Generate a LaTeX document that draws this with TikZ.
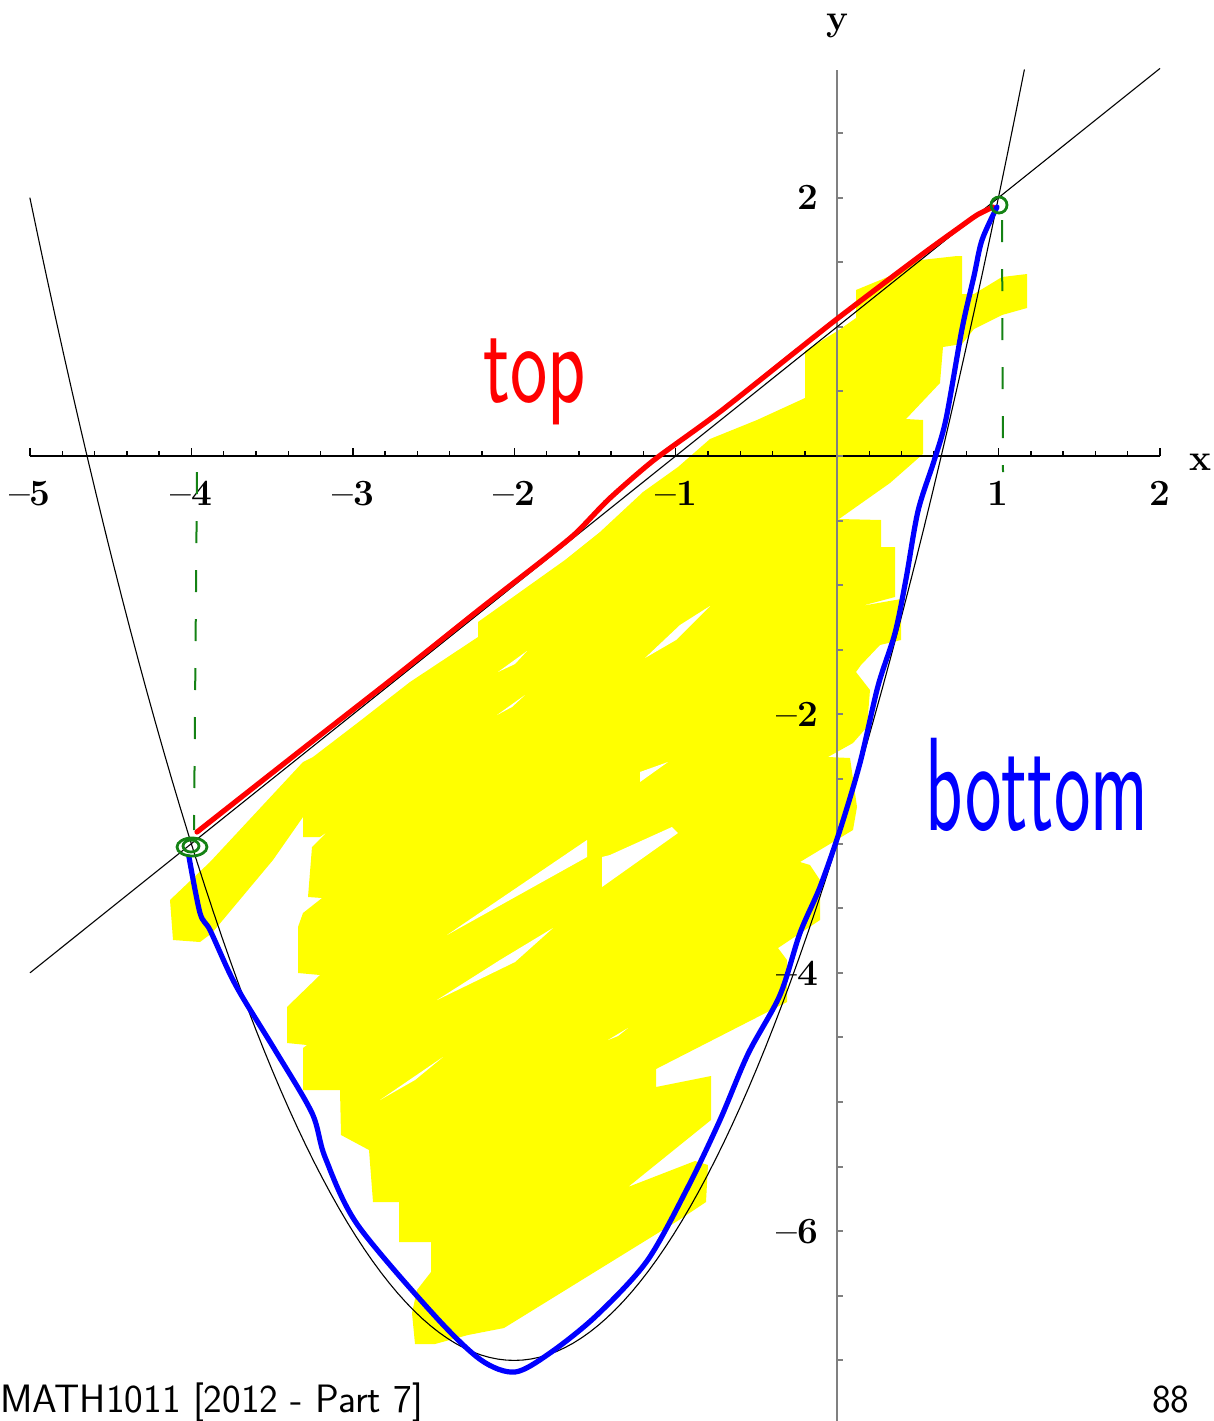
\documentclass[tikz,border=0pt]{standalone}
\usepackage{fontspec}
\definecolor{hly}{RGB}{255,255,0}
\definecolor{penred}{RGB}{255,0,0}
\definecolor{penblue}{RGB}{0,0,255}
\definecolor{pengreen}{RGB}{20,130,20}
\definecolor{axgray}{RGB}{128,128,128}
\begin{document}
\begin{tikzpicture}[x=0.5pt,y=-0.5pt,
  lab/.style={font=\bfseries\fontsize{18.5}{20}\selectfont, inner sep=0pt},
  curveblack/.style={line width=0.55pt, black},
  xax/.style={line width=0.7pt, black},
  yax/.style={line width=1pt, axgray},
  redpen/.style={line width=2.6pt, penred, line cap=round, line join=round},
  bluepen/.style={line width=2.6pt, penblue, line cap=round, line join=round},
  greenpen/.style={line width=1.4pt, pengreen},
  greendash/.style={line width=1pt, pengreen, dash pattern=on 11pt off 13.5pt},
  footer/.style={font=\sffamily\fontsize{19.8}{20}\selectfont, inner sep=0pt},
  gap/.style={fill=white}]
\useasboundingbox (0,0) rectangle (1214,1421);

% highlighter
\fill[hly] (170,900) -- (210,862) -- (303,762) -- (313,757) -- (360,721) -- (410,682) -- (478,637) -- (478,622) -- (565,560) -- (600,532) -- (643,492) -- (678,467) -- (710,439) -- (757,420) -- (805,398) -- (805,351) -- (839,330) -- (856,318) -- (856,290) -- (890,276) -- (912,261) -- (957,256) -- (962,256) -- (962,294) -- (974,294) -- (1002,277) -- (1027,274) -- (1027,308) -- (1002,315) -- (974,329) -- (962,344) -- (943,347) -- (940,383) -- (906,419) -- (923,420) -- (923,454) -- (890,483) -- (839,519) -- (881,520) -- (881,547) -- (895,547) -- (895,597) -- (861,606) -- (901,599) -- (901,640) -- (880,645) -- (861,665) -- (856,672) -- (870,690) -- (867,727) -- (853,743) -- (828,757) -- (850,758) -- (857,807) -- (853,830) -- (800,862) -- (810,865) -- (820,880) -- (820,920) -- (778,948) -- (787,960) -- (787,1002) -- (656,1069) -- (656,1087) -- (711,1076) -- (711,1120) -- (628,1187) -- (695,1161) -- (708,1165) -- (706,1202) -- (679,1220) -- (504,1328) -- (468,1335) -- (435,1344) -- (415,1344) -- (412,1313) -- (417,1290) -- (431,1272) -- (431,1242) -- (399,1242) -- (399,1202) -- (373,1202) -- (369,1150) -- (341,1135) -- (340,1090) -- (303,1090) -- (303,1048) -- (307,1045) -- (287,1043) -- (287,1007) -- (320,975) -- (298,973) -- (298,927) -- (303,913) -- (322,898) -- (308,897) -- (312,847) -- (327,832) -- (320,837) -- (303,837) -- (303,817) -- (273,860) -- (212,933) -- (200,942) -- (173,940) -- cycle;
% gaps in the highlighter strokes
\fill[gap] (710,606) -- (680,625) -- (645,658) -- (676,640) -- cycle;
\fill[gap] (527,651) -- (498,672) -- (515,664) -- cycle;
\fill[gap] (525,695) -- (497,715) -- (512,707) -- cycle;
\fill[gap] (668,762) -- (640,772) -- (640,782) -- cycle;
\fill[gap] (672,827) -- (678,833) -- (602,887) -- (602,857) -- (610,855) -- cycle;
\fill[gap] (587,840) -- (587,857) -- (447,935) -- cycle;
\fill[gap] (553,928) -- (515,962) -- (437,1000) -- (500,960) -- cycle;
\fill[gap] (628,1028) -- (608,1040) -- (618,1036) -- cycle;
\fill[gap] (443,1057) -- (380,1100) -- (415,1080) -- cycle;

% x axis
\draw[xax] (30,456) -- (1160,456);
\foreach \i in {0,...,35} \draw[xax] ({30+\i*32.286},456) -- ++(0,-5);
\foreach \i in {0,...,7} \draw[xax] ({30+\i*161.43},456) -- ++(0,-8);
% y axis
\draw[yax] (837,70) -- (837,1421);
\foreach \k in {-14,...,5} \draw[yax] (837,{456-64.6*\k}) -- ++(6,0);

% tick labels
\node[lab, anchor=base] (xlm5) at (30,505) {\textendash5};
\node[lab, anchor=base] (xlm4) at (191,505) {\textendash4};
\node[lab, anchor=base] (xlm3) at (353,505) {\textendash3};
\node[lab, anchor=base] (xlm2) at (514,505) {\textendash2};
\node[lab, anchor=base] (xlm1) at (676,505) {\textendash1};
\node[lab, anchor=base] (xlp1) at (998,505) {1};
\node[lab, anchor=base] (xlp2) at (1160,505) {2};
\node[lab, anchor=base east] (ylp2) at (819,209) {2};
\node[lab, anchor=base east] (ylm2) at (819,726) {\textendash2};
\node[lab, anchor=base east] (ylm4) at (819,985) {\textendash4};
\node[lab, anchor=base east] (ylm6) at (819,1243) {\textendash6};
\node[lab, anchor=base] (xname) at (1200,470) {x};
\node[lab, anchor=base] (yname) at (837,30) {y};

% curves
\draw[curveblack] plot[domain=-5:1.1623, samples=120] ({837+161.43*\x},{456-129.2*(\x*\x+4*\x-3)});
\draw[curveblack] (30,972.8) -- (1160,68.4);

% top (red)
\draw[redpen] plot[smooth, tension=0.4] coordinates {(197,832) (300,751) (396,676) (480,609) (543,560) (576,533) (609,499) (654,460) (721,411) (833,322) (920,256) (960,227) (977,215) (993,207)};
% bottom (blue)
\draw[bluepen] plot[smooth, tension=0.5] coordinates {(997,207) (982,240) (974,276) (962,329) (946,419) (934,461) (918,511) (906,579) (895,633) (878,686) (860,763) (840,830) (820,887) (800,933) (780,995) (748,1054) (720,1120) (688,1187) (647,1261) (596,1316) (550,1353) (515,1372) (481,1360) (435,1316) (357,1224) (325,1157) (312,1113) (275,1050) (243,998) (229,972) (210,930) (200,913) (189,857)};

% green marks
\draw[greendash] (197,472) -- (194,830);
\draw[greendash] (1002,220) -- (1003,472);
\draw[greenpen] (192,847) ellipse [x radius=7.5pt, y radius=4.5pt];
\draw[greenpen] (191,846) ellipse [x radius=4pt, y radius=3pt];
\draw[greenpen] (999,205) circle [radius=4pt];

% handwritten words
\node[font=\sffamily\fontsize{36}{36}\selectfont, text=penred, anchor=base, inner sep=0pt] (topword) at (535,402) {\scalebox{1.1}[1.6]{top}};
\node[font=\sffamily\fontsize{38}{38}\selectfont, text=penblue, anchor=base, inner sep=0pt] (bottomword) at (1037,830) {\scalebox{1.02}[1.75]{bottom}};

% footer
\node[footer, anchor=base west] (foot) at (0,1412) {MATH1011 [2012 - Part 7]};
\node[footer, anchor=base east] (page) at (1190,1412) {88};
\end{tikzpicture}
\end{document}
